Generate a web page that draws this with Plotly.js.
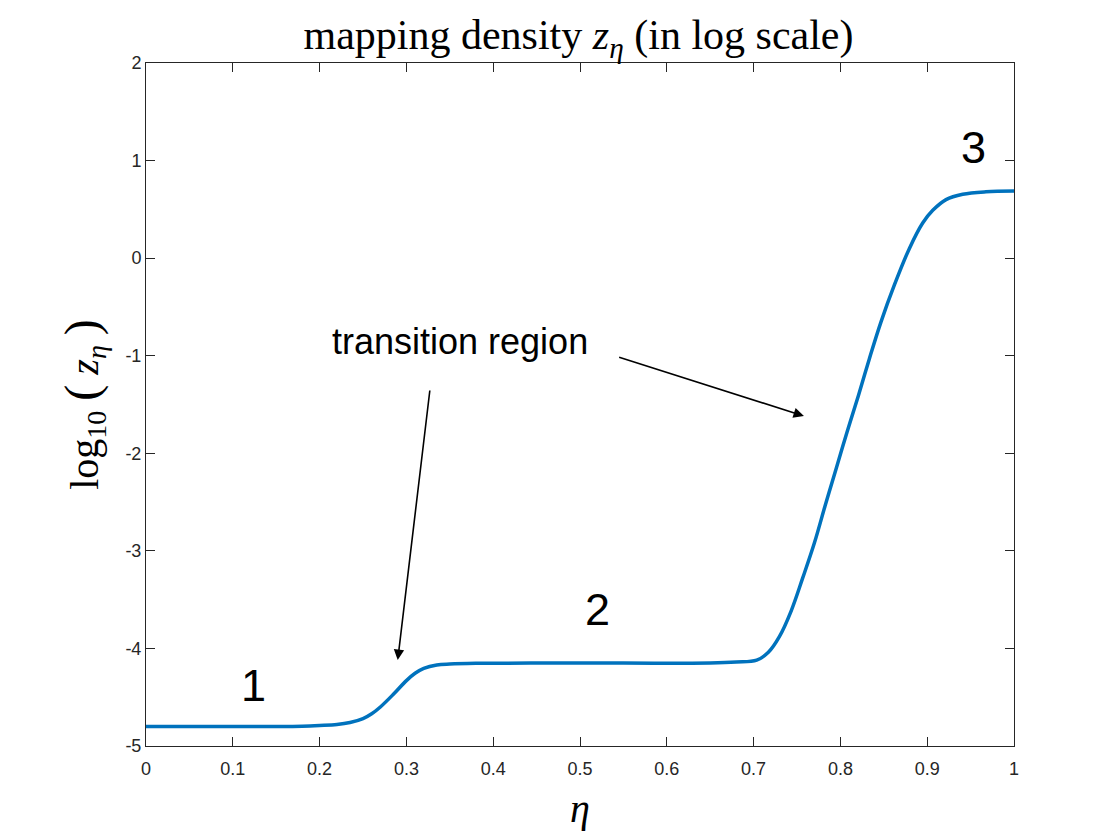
<!DOCTYPE html>
<html>
<head>
<meta charset="utf-8">
<script src="https://cdn.plot.ly/plotly-3.0.1.min.js"></script>
<style>html,body{margin:0;padding:0;background:#fff;} #chart{width:1120px;height:840px;}</style>
</head>
<body>
<div id="chart"></div>
<script>
// eta values
const eta = [0, 0.05, 0.10, 0.15, 0.18, 0.20, 0.22, 0.235, 0.25, 0.26, 0.27, 0.285, 0.30, 0.31, 0.32, 0.335, 0.35, 0.38, 0.45, 0.55, 0.65, 0.68, 0.7036, 0.717, 0.7297, 0.7431, 0.7565, 0.77, 0.7823, 0.795, 0.8076, 0.8207, 0.8334, 0.8468, 0.8622, 0.8795, 0.8948, 0.9064, 0.9217, 0.9409, 0.9677, 1.0];
// log10(z_eta) values
const logZ = [-4.80, -4.80, -4.80, -4.80, -4.797, -4.79, -4.78, -4.76, -4.72, -4.67, -4.60, -4.47, -4.33, -4.255, -4.205, -4.17, -4.16, -4.153, -4.15, -4.15, -4.15, -4.14, -4.12, -4.04, -3.88, -3.62, -3.28, -2.92, -2.54, -2.16, -1.785, -1.41, -1.03, -0.653, -0.275, 0.10, 0.36, 0.49, 0.60, 0.655, 0.68, 0.687];

const xTickVals = [0, 0.1, 0.2, 0.3, 0.4, 0.5, 0.6, 0.7, 0.8, 0.9, 1];
const xTickText = ["0", "0.1", "0.2", "0.3", "0.4", "0.5", "0.6", "0.7", "0.8", "0.9", "1"];
const yTickVals = [-5, -4, -3, -2, -1, 0, 1, 2];
const yTickText = ["-5", "-4", "-3", "-2", "-1", "0", "1", "2"];

// region labels
const regionLabels = ["1", "2", "3"];
const regionX = [0.1244, 0.5196, 0.9528];
const regionY = [-4.375, -3.606, 1.129];

// arrows: tail -> head
const arrowTailX = [0.3272, 0.5434];
const arrowTailY = [-1.341, -1.010];
const arrowHeadX = [0.290, 0.758];
const arrowHeadY = [-4.119, -1.618];
const noteText = "transition region";
const noteX = 0.3618, noteY = -0.859;

const axisColor = "#262626";
const serif = "'Liberation Serif', 'DejaVu Serif', serif";
const sans = "'Liberation Sans', Arial, Helvetica, sans-serif";

const annotations = [];
regionLabels.forEach((t, i) => annotations.push({
  x: regionX[i], y: regionY[i], xref: "x", yref: "y", text: t, showarrow: false,
  font: {family: sans, size: 45, color: "#000"}, xanchor: "center", yanchor: "middle"
}));
annotations.push({
  x: noteX, y: noteY, xref: "x", yref: "y", text: noteText, showarrow: false,
  font: {family: sans, size: 36, color: "#000"}, xanchor: "center", yanchor: "middle"
});
arrowHeadX.forEach((hx, i) => annotations.push({
  x: hx, y: arrowHeadY[i], ax: arrowTailX[i], ay: arrowTailY[i],
  xref: "x", yref: "y", axref: "x", ayref: "y", text: "", showarrow: true,
  arrowhead: 2, arrowsize: 1.3, arrowwidth: 1.6, arrowcolor: "#000", standoff: 0, startstandoff: 0
}));

const trace = {
  x: eta, y: logZ, type: "scatter", mode: "lines",
  line: {color: "#0072BD", width: 3.5, shape: "spline", smoothing: 1},
  hoverinfo: "skip"
};

const axisCommon = {
  showline: true, linecolor: axisColor, linewidth: 1, mirror: "ticks",
  ticks: "inside", ticklen: 9, tickwidth: 1, tickcolor: axisColor,
  showgrid: false, zeroline: false,
  tickfont: {family: sans, size: 18, color: axisColor}
};

const layout = {
  width: 1120, height: 840,
  margin: {l: 146, r: 106, t: 63, b: 94},
  paper_bgcolor: "#fff", plot_bgcolor: "#fff",
  showlegend: false,
  title: {
    text: "mapping density <i>z</i><sub><i>η</i></sub> (in log scale)",
    font: {family: serif, size: 42, color: "#000"},
    x: 0.5165, xanchor: "center", y: 0.959, yanchor: "middle"
  },
  xaxis: Object.assign({}, axisCommon, {
    range: [0, 1], tickvals: xTickVals, ticktext: xTickText, ticklabelstandoff: 6,
    title: {text: "<i>η</i>", font: {family: serif, size: 40, color: "#000"}, standoff: 16}
  }),
  yaxis: Object.assign({}, axisCommon, {
    range: [-5, 2], tickvals: yTickVals, ticktext: yTickText,
    title: {text: "log<sub>10</sub> <span style=\"font-size:48px\">(</span> <i>z</i><sub><i>η</i></sub> <span style=\"font-size:48px\">)</span>", font: {family: serif, size: 40, color: "#000"}, standoff: 14}
  }),
  annotations: annotations
};

Plotly.newPlot("chart", [trace], layout, {displayModeBar: false, staticPlot: true});
</script>
</body>
</html>
